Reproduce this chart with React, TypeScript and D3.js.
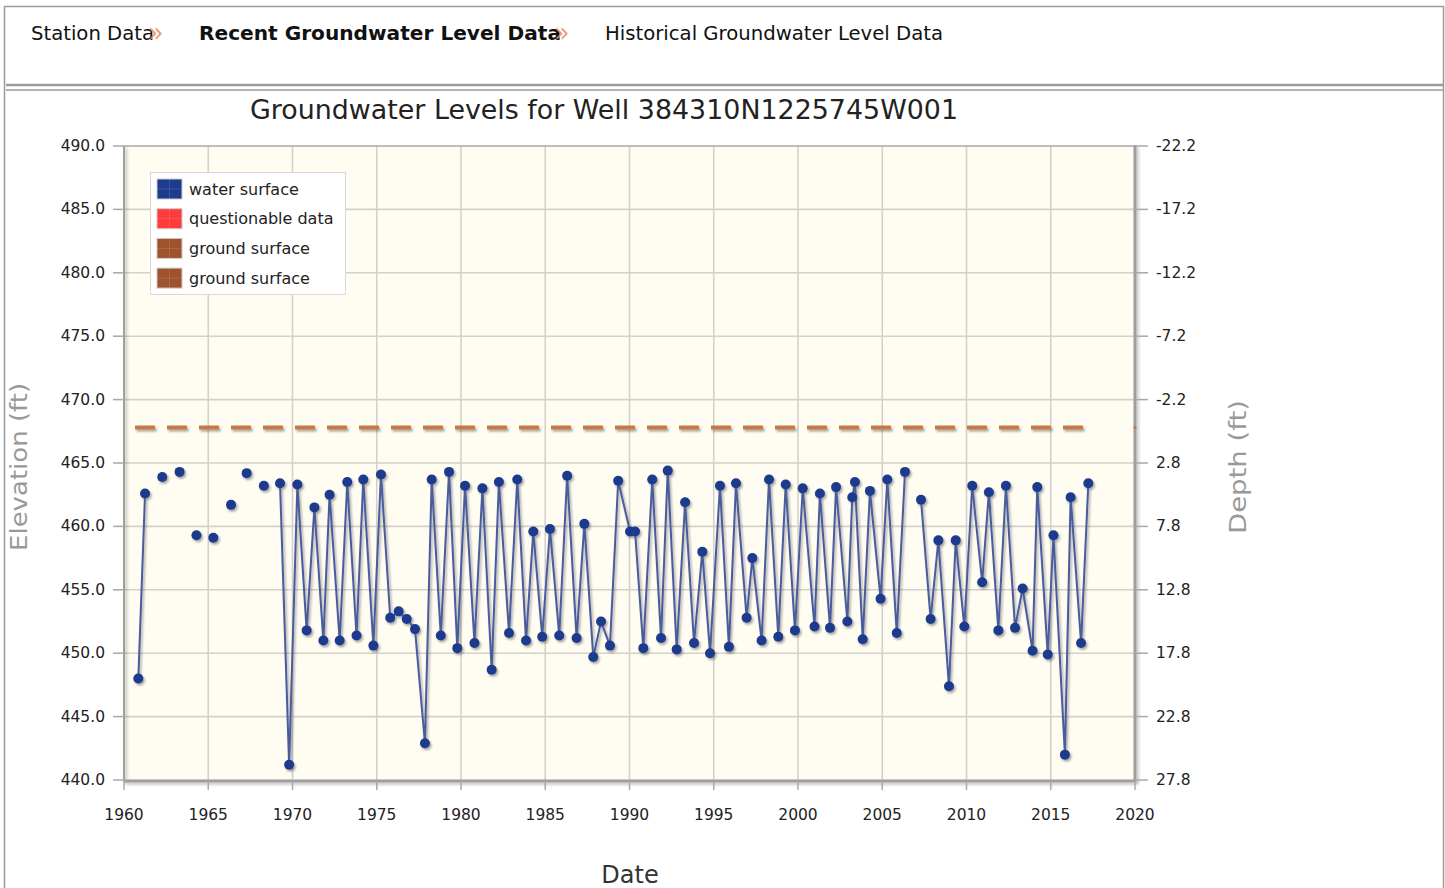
import React from 'react';
import * as d3 from 'd3';

// measurement dates (decimal years) and water surface elevations (ft)
const dates = [
  1960.85, 1961.25, 1962.27, 1963.3, 1964.3, 1965.3, 1966.35, 1967.28, 1968.3, 1969.26,
  1969.8, 1970.29, 1970.84, 1971.3, 1971.83, 1972.2, 1972.8, 1973.25, 1973.8, 1974.2,
  1974.8, 1975.25, 1975.8, 1976.3, 1976.78, 1977.27, 1977.86, 1978.26, 1978.8, 1979.29,
  1979.78, 1980.24, 1980.8, 1981.27, 1981.82, 1982.25, 1982.85, 1983.34, 1983.86, 1984.29,
  1984.82, 1985.28, 1985.83, 1986.3, 1986.86, 1987.32, 1987.85, 1988.31, 1988.84, 1989.33,
  1990.03, 1990.33, 1990.82, 1991.35, 1991.87, 1992.27, 1992.8, 1993.3, 1993.83, 1994.32,
  1994.78, 1995.37, 1995.9, 1996.32, 1996.95, 1997.29, 1997.84, 1998.28, 1998.83, 1999.27,
  1999.82, 2000.28, 2000.98, 2001.3, 2001.9, 2002.26, 2002.93, 2003.22, 2003.38, 2003.84,
  2004.27, 2004.9, 2005.3, 2005.86, 2006.35, 2007.3, 2007.87, 2008.33, 2008.96, 2009.36,
  2009.87, 2010.34, 2010.93, 2011.33, 2011.89, 2012.34, 2012.88, 2013.33, 2013.92, 2014.2,
  2014.82, 2015.16, 2015.84, 2016.18, 2016.8, 2017.23,
];
const levels = [
  448.0, 462.6, 463.9, 464.3, 459.3, 459.1, 461.7, 464.2, 463.2, 463.4,
  441.2, 463.3, 451.8, 461.5, 451.0, 462.5, 451.0, 463.5, 451.4, 463.7,
  450.6, 464.1, 452.8, 453.3, 452.7, 451.9, 442.9, 463.7, 451.4, 464.3,
  450.4, 463.2, 450.8, 463.0, 448.7, 463.5, 451.6, 463.7, 451.0, 459.6,
  451.3, 459.8, 451.4, 464.0, 451.2, 460.2, 449.7, 452.5, 450.6, 463.6,
  459.6, 459.6, 450.4, 463.7, 451.2, 464.4, 450.3, 461.9, 450.8, 458.0,
  450.0, 463.2, 450.5, 463.4, 452.8, 457.5, 451.0, 463.7, 451.3, 463.3,
  451.8, 463.0, 452.1, 462.6, 452.0, 463.1, 452.5, 462.3, 463.5, 451.1,
  462.8, 454.3, 463.7, 451.6, 464.3, 462.1, 452.7, 458.9, 447.4, 458.9,
  452.1, 463.2, 455.6, 462.7, 451.8, 463.2, 452.0, 455.1, 450.2, 463.1,
  449.9, 459.3, 442.0, 462.3, 450.8, 463.4,
];
// index where each connected run of measurements starts
const segmentStarts = [0, 2, 3, 4, 5, 6, 7, 8, 9, 85];

const groundSurface = 467.8;
const groundDates = [1960, 2017.23];
const groundMarkerDates = [2020];

const yearTicks = [1960, 1965, 1970, 1975, 1980, 1985, 1990, 1995, 2000, 2005, 2010, 2015, 2020];
const elevTicks = [440, 445, 450, 455, 460, 465, 470, 475, 480, 485, 490];
const depthTicks = [-22.2, -17.2, -12.2, -7.2, -2.2, 2.8, 7.8, 12.8, 17.8, 22.8, 27.8];

const legendLabels = ['water surface', 'questionable data', 'ground surface', 'ground surface'];
const legendColors = ['#1c3c8e', '#ff3b3b', '#a0522d', '#a0522d'];

const FONT = "'DejaVu Sans', Verdana, sans-serif";

export default function App() {
  const W = 1445;
  const H = 888;
  const left = 124;
  const right = 1135;
  const top = 146;
  const bottom = 780;

  const x = d3.scaleLinear().domain([1960, 2020]).range([left, right]);
  const y = d3.scaleLinear().domain([440, 490]).range([bottom, top]);
  const yDepth = d3
    .scaleLinear()
    .domain([groundSurface - 440, groundSurface - 490])
    .range([bottom, top]);

  const pts: [number, number][] = dates.map((d, i) => [d, levels[i]]);
  const segments = segmentStarts.map((s, k) =>
    pts.slice(s, k + 1 < segmentStarts.length ? segmentStarts[k + 1] : pts.length)
  );
  const line = d3
    .line<[number, number]>()
    .x(d => x(d[0]))
    .y(d => y(d[1]));

  const groundLine = d3
    .line<number>()
    .x(d => x(d))
    .y(() => y(groundSurface));

  return (
    <svg
      width={W}
      height={H}
      style={{ position: 'absolute', left: 0, top: 0, background: '#fff' }}
      fontFamily={FONT}
    >
      <defs>
        <filter id="shadow" filterUnits="userSpaceOnUse" x={0} y={0} width={W} height={H}>
          <feDropShadow dx="1.5" dy="2" stdDeviation="1.2" floodColor="#000" floodOpacity="0.35" />
        </filter>
        <filter id="axisShadow" filterUnits="userSpaceOnUse" x={0} y={0} width={W} height={H}>
          <feDropShadow dx="2" dy="2" stdDeviation="1.5" floodColor="#000" floodOpacity="0.25" />
        </filter>
      </defs>

      {/* page frame */}
      <g fill="none" stroke="#9a9a9a">
        <line x1={4.5} y1={6.5} x2={1443.5} y2={6.5} strokeWidth={1.5} />
        <line x1={4.5} y1={6} x2={4.5} y2={H} strokeWidth={1.5} />
        <line x1={1443.5} y1={6} x2={1443.5} y2={H} strokeWidth={1.5} />
        <line x1={6} y1={85} x2={1443} y2={85} strokeWidth={2.5} />
        <line x1={6} y1={90} x2={1443} y2={90} strokeWidth={1.5} />
      </g>

      {/* breadcrumb tabs */}
      <g fontFamily="Tahoma, 'DejaVu Sans Condensed', 'DejaVu Sans', sans-serif" fontSize={19} fill="#111">
        <text x={31} y={40} textLength={123} lengthAdjust="spacingAndGlyphs">Station Data</text>
        <text x={148} y={42} fill="#e8895c" fillOpacity={0.85} fontSize={28}>»</text>
        <text x={199} y={40} fontWeight="bold" textLength={362} lengthAdjust="spacingAndGlyphs">
          Recent Groundwater Level Data
        </text>
        <text x={554} y={42} fill="#e8895c" fillOpacity={0.85} fontSize={28}>»</text>
        <text x={605} y={40} textLength={338} lengthAdjust="spacingAndGlyphs">
          Historical Groundwater Level Data
        </text>
      </g>

      {/* title */}
      <text
        x={(250 + 958) / 2}
        y={119}
        textAnchor="middle"
        fontSize={26}
        fill="#222"
        textLength={708}
        lengthAdjust="spacingAndGlyphs"
      >
        Groundwater Levels for Well 384310N1225745W001
      </text>

      {/* plot background */}
      <rect x={left} y={top} width={right - left} height={bottom - top} fill="#fffcf2" />

      {/* grid */}
      <g stroke="#d4d1ca" strokeWidth={1.6}>
        {yearTicks.slice(1, -1).map(t => (
          <line key={'gx' + t} x1={x(t)} x2={x(t)} y1={top} y2={bottom} />
        ))}
        {elevTicks.slice(1, -1).map(t => (
          <line key={'gy' + t} x1={left} x2={right} y1={y(t)} y2={y(t)} />
        ))}
      </g>

      {/* axes frame */}
      <line x1={left} x2={right} y1={top} y2={top} stroke="#a8a8a8" strokeWidth={1.5} />
      <line x1={left} x2={left} y1={top} y2={bottom + 1} stroke="#a0a0a0" strokeWidth={2} filter="url(#axisShadow)" />
      <line x1={right} x2={right} y1={top - 1} y2={bottom + 1} stroke="#9e9e9e" strokeWidth={3} filter="url(#axisShadow)" />
      <line x1={left} x2={right + 1} y1={bottom + 1} y2={bottom + 1} stroke="#9e9e9e" strokeWidth={3} filter="url(#axisShadow)" />

      {/* ticks */}
      <g stroke="#a8a8a8" strokeWidth={1.5}>
        {elevTicks.map(t => (
          <line key={'tl' + t} x1={left - 11} x2={left} y1={y(t)} y2={y(t)} />
        ))}
        {depthTicks.map(t => (
          <line key={'tr' + t} x1={right} x2={right + 13} y1={yDepth(t)} y2={yDepth(t)} />
        ))}
        {yearTicks.map(t => (
          <line key={'tb' + t} x1={x(t)} x2={x(t)} y1={bottom + 1} y2={bottom + 10} />
        ))}
      </g>

      {/* tick labels */}
      <g fontSize={15.5} fill="#222">
        {elevTicks.map(t => (
          <text key={'ll' + t} x={105} y={y(t) + 5} textAnchor="end">
            {t.toFixed(1)}
          </text>
        ))}
        {depthTicks.map(t => (
          <text key={'rl' + t} x={1156} y={yDepth(t) + 5}>
            {t.toFixed(1)}
          </text>
        ))}
        {yearTicks.map(t => (
          <text key={'bl' + t} x={x(t)} y={820} textAnchor="middle">
            {t}
          </text>
        ))}
      </g>

      {/* axis titles */}
      <text
        transform={`translate(27, ${(383 + 551) / 2}) rotate(-90)`}
        textAnchor="middle"
        fontSize={23}
        fill="#999"
        textLength={168}
        lengthAdjust="spacingAndGlyphs"
      >
        Elevation (ft)
      </text>
      <text
        transform={`translate(1246, ${(400 + 534) / 2}) rotate(-90)`}
        textAnchor="middle"
        fontSize={23}
        fill="#999"
        textLength={134}
        lengthAdjust="spacingAndGlyphs"
      >
        Depth (ft)
      </text>
      <text x={630} y={883} textAnchor="middle" fontSize={24} fill="#333">
        Date
      </text>

      {/* ground surface */}
      <path
        d={groundLine(groundDates) || ''}
        fill="none"
        stroke="#c87a45"
        strokeWidth={4}
        strokeDasharray="20 12"
        strokeDashoffset={21}
        filter="url(#shadow)"
      />
      {groundMarkerDates.map(d => (
        <circle key={'gm' + d} cx={x(d)} cy={y(groundSurface)} r={1.5} fill="#c87a45" />
      ))}

      {/* water surface */}
      <g filter="url(#shadow)">
        {segments
          .filter(s => s.length > 1)
          .map((s, i) => (
            <path key={'seg' + i} d={line(s) || ''} fill="none" stroke="#4a5c9c" strokeWidth={2} />
          ))}
        {pts.map((p, i) => (
          <circle key={'pt' + i} cx={x(p[0])} cy={y(p[1])} r={5} fill="#1d3a8c" />
        ))}
      </g>

      {/* legend */}
      <g>
        <rect x={150.5} y={172.5} width={195} height={122} fill="#fff" stroke="#d8d8d8" />
        {legendLabels.map((label, i) => {
          const cy = 189 + i * 29.7;
          return (
            <g key={'lg' + i}>
              <rect x={157} y={cy - 10} width={25} height={20} fill={legendColors[i]} stroke="#ccc" strokeWidth={1} />
              <line x1={169.5} x2={169.5} y1={cy - 10} y2={cy + 10} stroke="#fff" strokeOpacity={0.12} />
              <line x1={157} x2={182} y1={cy} y2={cy} stroke="#fff" strokeOpacity={0.12} />
              <text x={189} y={cy + 5.5} fontSize={16} fill="#222">
                {label}
              </text>
            </g>
          );
        })}
      </g>
    </svg>
  );
}
